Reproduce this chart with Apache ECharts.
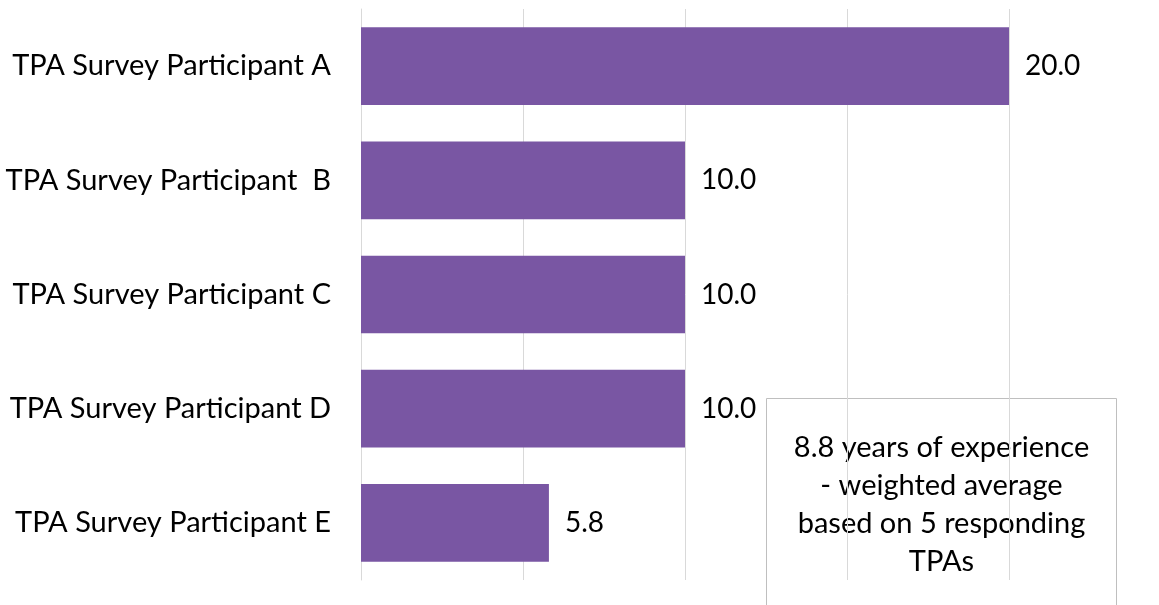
<!DOCTYPE html>
<html>
<head>
<meta charset="utf-8">
<script src="https://cdn.jsdelivr.net/npm/echarts@6/dist/echarts.min.js"></script>
<style>
  html, body { margin: 0; padding: 0; background: #ffffff; }
  #chart { width: 1159px; height: 605px; }
</style>
</head>
<body>
<div id="chart"></div>
<script>
// Years of experience reported by each TPA survey participant
const categories = [
  'TPA Survey Participant A',
  'TPA Survey Participant  B',
  'TPA Survey Participant C',
  'TPA Survey Participant D',
  'TPA Survey Participant E'
];
const years = [20.0, 10.0, 10.0, 10.0, 5.8];
const noteLines = [
  '8.8 years of experience',
  '- weighted average',
  'based on 5 responding',
  'TPAs'
];

const FONT = 'Lato, "Open Sans", sans-serif';
const chart = echarts.init(document.getElementById('chart'), null, { renderer: 'canvas' });

chart.setOption({
  backgroundColor: '#ffffff',
  animation: false,
  grid: { left: 361, right: 150, top: 9, bottom: 25, containLabel: false },
  xAxis: {
    type: 'value',
    min: 0,
    max: 20,
    interval: 5,
    axisLabel: { show: false },
    axisLine: { show: false },
    axisTick: { show: false },
    splitLine: { show: true, lineStyle: { color: '#d9d9d9', width: 1 } }
  },
  yAxis: {
    type: 'category',
    data: categories,
    inverse: true,
    axisLine: { show: true, lineStyle: { color: '#d9d9d9', width: 1 } },
    axisTick: { show: false },
    axisLabel: {
      color: '#000000',
      fontFamily: FONT,
      fontSize: 29,
      margin: 30
    },
    splitLine: { show: false }
  },
  series: [{
    type: 'bar',
    data: years,
    barCategoryGap: '32%',
    itemStyle: { color: '#7956a3' },
    label: {
      show: true,
      position: 'right',
      distance: 16,
      color: '#000000',
      fontFamily: FONT,
      fontSize: 28,
      formatter: p => p.value.toFixed(1)
    }
  }],
  graphic: [{
    type: 'group',
    left: 766,
    top: 398,
    children: [
      {
        type: 'rect',
        shape: { x: 0, y: 0, width: 350, height: 230 },
        style: { fill: 'transparent', stroke: '#bfbfbf', lineWidth: 1 }
      },
      {
        type: 'text',
        x: 175,
        y: 30,
        style: {
          text: noteLines.join('\n'),
          align: 'center',
          verticalAlign: 'top',
          fontFamily: FONT,
          fontSize: 29,
          lineHeight: 38,
          fill: '#000000'
        }
      }
    ]
  }]
});
</script>
</body>
</html>
